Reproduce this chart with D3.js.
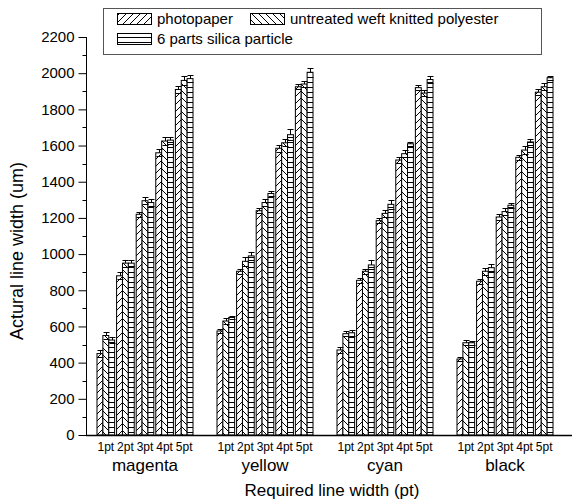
<!DOCTYPE html>
<html>
<head>
<meta charset="utf-8">
<script src="https://cdn.jsdelivr.net/npm/d3@7"></script>
<style>
  body { margin: 0; background: #fff; }
  text { font-family: "Liberation Sans", Arial, sans-serif; fill: #000; }
</style>
</head>
<body>
<script>
// data
const groups = ["magenta", "yellow", "cyan", "black"];
const sizes = ["1pt", "2pt", "3pt", "4pt", "5pt"];
const seriesNames = ["photopaper", "untreated weft knitted polyester", "6 parts silica particle"];

// values per group, 1pt..5pt
const photopaper = [
  [450, 880, 1220, 1560, 1910],
  [575, 905, 1240, 1585, 1925],
  [470, 855, 1185, 1520, 1920],
  [420, 850, 1205, 1535, 1895]
];
const untreated = [
  [550, 950, 1295, 1625, 1960],
  [630, 960, 1285, 1615, 1940],
  [560, 905, 1225, 1555, 1890],
  [510, 905, 1235, 1575, 1925]
];
const silica = [
  [525, 950, 1285, 1630, 1970],
  [650, 990, 1335, 1660, 2005],
  [565, 940, 1275, 1610, 1965],
  [510, 925, 1270, 1620, 1975]
];
const photopaperErr = [
  [20, 20, 15, 20, 20],
  [10, 15, 15, 20, 15],
  [15, 15, 15, 15, 15],
  [10, 15, 15, 15, 15]
];
const untreatedErr = [
  [20, 20, 20, 20, 25],
  [15, 25, 20, 20, 15],
  [15, 15, 20, 20, 15],
  [15, 20, 20, 20, 20]
];
const silicaErr = [
  [15, 15, 20, 20, 20],
  [10, 20, 15, 30, 25],
  [15, 25, 25, 10, 20],
  [10, 20, 15, 15, 10]
];
const yTicks = d3.range(0, 2201, 200);

const values = [photopaper, untreated, silica];
const errors = [photopaperErr, untreatedErr, silicaErr];

const width = 576, height = 502;
const svg = d3.select("body").append("svg")
  .attr("width", width)
  .attr("height", height);

// hatch patterns
const defs = svg.append("defs");
function hatch(id, d, w, h) {
  const p = defs.append("pattern")
    .attr("id", id)
    .attr("patternUnits", "userSpaceOnUse")
    .attr("width", w).attr("height", h);
  p.append("rect").attr("width", w).attr("height", h).attr("fill", "#fff");
  p.append("path").attr("d", d).attr("stroke", "#000").attr("stroke-width", 1).attr("fill", "none");
}
hatch("p0", "M-1,1 l2,-2 M0,7 l7,-7 M6,8 l2,-2", 7, 7);
hatch("p1", "M-1,6 l2,2 M0,0 l7,7 M6,-1 l2,2", 7, 7);
hatch("p2", "M0,2.5 H6", 6, 5);

const y = d3.scaleLinear().domain([0, 2200]).range([435, 37]);
const x0 = d3.scaleBand().domain(groups).range([85, 565]).paddingInner(0.2).paddingOuter(0.1);
const x1 = d3.scaleBand().domain(sizes).range([0, x0.bandwidth()]).paddingInner(0.1);
const x2 = d3.scaleBand().domain(d3.range(3)).range([0, x1.bandwidth()]);

const bars = [];
groups.forEach((g, gi) => {
  sizes.forEach((s, si) => {
    values.forEach((arr, k) => {
      bars.push({ g, s, k, v: arr[gi][si], e: errors[k][gi][si] });
    });
  });
});

const bx = d => x0(d.g) + x1(d.s) + x2(d.k);

// error bars (upper whisker)
const eb = svg.append("g").attr("stroke", "#000").attr("stroke-width", 1);
eb.selectAll("path").data(bars).enter().append("path")
  .attr("fill", "none")
  .attr("d", d => {
    const cx = Math.round(bx(d) + x2.bandwidth() / 2) + 0.5;
    const yt = Math.round(y(d.v + d.e)) + 0.5;
    const yb = y(d.v);
    return `M${cx},${yb} V${yt} M${cx - 3},${yt} H${cx + 3}`;
  });

svg.append("g").selectAll("rect").data(bars).enter().append("rect")
  .attr("x", d => bx(d))
  .attr("y", d => y(d.v))
  .attr("width", x2.bandwidth())
  .attr("height", d => y(0) - y(d.v))
  .attr("fill", d => `url(#p${d.k})`)
  .attr("stroke", "#000")
  .attr("stroke-width", 1);

eb.raise();
// lower caps inside the bars
svg.append("g").attr("stroke", "#000").selectAll("path").data(bars).enter().append("path")
  .attr("d", d => {
    const cx = Math.round(bx(d) + x2.bandwidth() / 2) + 0.5;
    const yl = Math.round(y(d.v - d.e)) + 0.5;
    return `M${cx - 3},${yl} H${cx + 3}`;
  });

// y axis
const yAxis = d3.axisLeft(y).tickValues(yTicks).tickSize(8).tickPadding(4).tickFormat(d3.format("d"));
const ya = svg.append("g").attr("transform", "translate(86.5,0)").call(yAxis);
ya.select(".domain").attr("d", `M0,${y(0)}V${y(2200)}`).attr("stroke", "#000");
ya.selectAll("text").style("font-size", "15px").style("font-family", "Liberation Sans, Arial, sans-serif");
ya.selectAll(".minor").data(d3.range(100, 2200, 200)).enter().append("line")
  .attr("class", "minor")
  .attr("x1", -4).attr("x2", 0)
  .attr("y1", d => Math.round(y(d)) + 0.5).attr("y2", d => Math.round(y(d)) + 0.5)
  .attr("stroke", "#000");

// x axis baseline
svg.append("line")
  .attr("x1", 86).attr("x2", 572)
  .attr("y1", y(0) + 0.5).attr("y2", y(0) + 0.5)
  .attr("stroke", "#000").attr("stroke-width", 1.5);

// sub labels
const sub = [];
groups.forEach(g => sizes.forEach(s => sub.push({ g, s })));
svg.append("g").selectAll("text").data(sub).enter().append("text")
  .attr("x", d => x0(d.g) + x1(d.s) + x1.bandwidth() / 2)
  .attr("y", 451)
  .attr("text-anchor", "middle")
  .style("font-size", "12px")
  .text(d => d.s);

svg.append("g").selectAll("text").data(groups).enter().append("text")
  .attr("x", d => x0(d) + x0.bandwidth() / 2)
  .attr("y", 471)
  .attr("text-anchor", "middle")
  .style("font-size", "17px")
  .text(d => d);

svg.append("text")
  .attr("x", 332).attr("y", 496)
  .attr("text-anchor", "middle")
  .style("font-size", "17px")
  .text("Required line width (pt)");

svg.append("text")
  .attr("transform", "translate(23,251) rotate(-90)")
  .attr("text-anchor", "middle")
  .style("font-size", "18px")
  .text("Actural line width (um)");

// legend
const lg = svg.append("g");
lg.append("rect").attr("x", 103.5).attr("y", 8.5).attr("width", 438).attr("height", 46)
  .attr("fill", "#fff").attr("stroke", "#555");
const legendItems = [
  { k: 0, x: 117, y: 13 },
  { k: 1, x: 250, y: 13 },
  { k: 2, x: 117, y: 33 }
];
legendItems.forEach(it => {
  lg.append("rect").attr("x", it.x + 0.5).attr("y", it.y + 0.5).attr("width", 34).attr("height", 11)
    .attr("fill", `url(#p${it.k})`).attr("stroke", "#000");
  lg.append("text").attr("x", it.x + 40).attr("y", it.y + 11)
    .style("font-size", "15px")
    .text(seriesNames[it.k]);
});
</script>
</body>
</html>
